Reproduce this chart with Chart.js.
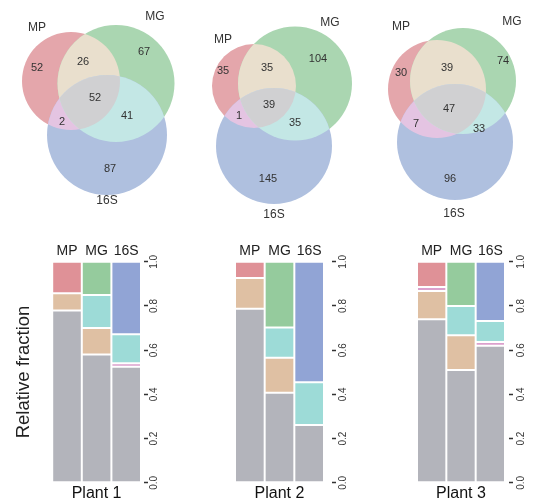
<!DOCTYPE html>
<html>
<head>
<meta charset="utf-8">
<script src="https://cdn.jsdelivr.net/npm/chart.js@4.4.0/dist/chart.umd.min.js"></script>
<style>
  html, body { margin: 0; padding: 0; background: #fff; }
  #wrap { position: relative; width: 536px; height: 503px; overflow: hidden; }
  .box { position: absolute; }
</style>
</head>
<body>
<div id="wrap">
  <div class="box" style="left:0;top:0;width:180px;height:228px"><canvas id="venn1"></canvas></div>
  <div class="box" style="left:180px;top:0;width:180px;height:228px"><canvas id="venn2"></canvas></div>
  <div class="box" style="left:360px;top:0;width:176px;height:228px"><canvas id="venn3"></canvas></div>
  <div class="box" style="left:0;top:238px;width:170px;height:265px"><canvas id="bar1"></canvas></div>
  <div class="box" style="left:180px;top:238px;width:178px;height:265px"><canvas id="bar2"></canvas></div>
  <div class="box" style="left:358px;top:238px;width:178px;height:265px"><canvas id="bar3"></canvas></div>
</div>
<script>
// ---- data ----
var setNames = ['MP', 'MG', '16S'];
var plantNames = ['Plant 1', 'Plant 2', 'Plant 3'];

// venn counts: MP only, MG only, 16S only, MP&MG, MP&16S, MG&16S, all three
var venn1Counts = [52, 67, 87, 26, 2, 41, 52];
var venn2Counts = [35, 104, 145, 35, 1, 35, 39];
var venn3Counts = [30, 74, 96, 39, 7, 33, 47];

// relative fractions per plant, bars in order MP, MG, 16S
var sharedAll   = [[0.78, 0.58, 0.525], [0.787, 0.408, 0.262], [0.74, 0.51, 0.62]];
var sharedMpMg  = [[0.078, 0.12, 0], [0.14, 0.158, 0], [0.128, 0.158, 0]];
var sharedMp16s = [[0, 0, 0.016], [0, 0, 0], [0.018, 0, 0.017]];
var sharedMg16s = [[0, 0.15, 0.131], [0, 0.137, 0.193], [0, 0.132, 0.095]];
var uniqueOnly  = [[0.142, 0.15, 0.328], [0.073, 0.297, 0.545], [0.114, 0.2, 0.268]];

var fracTicks = [0, 0.2, 0.4, 0.6, 0.8, 1.0];

// ---- layout of the venn pictures (canvas pixel units) ----
var venn1Circles = [[71, 81, 49], [116, 83.5, 58.5], [107, 135, 60]];
var venn2Circles = [[74, 86, 42], [115, 83.5, 57], [94, 146, 58]];
var venn3Circles = [[77, 89, 49], [103, 81, 53], [95, 142, 58]];
var venn1Spots = [[37, 68], [144, 52], [110, 169], [83, 62], [62, 122], [127, 116], [95, 98]];
var venn2Spots = [[43, 71], [138, 59], [88, 179], [87, 68], [59, 116], [115, 123], [89, 105]];
var venn3Spots = [[41, 73], [143, 61], [90, 179], [87, 68], [56, 124], [119, 129], [89, 109]];
var venn1Names = [[37, 28], [155, 17], [107, 201]];
var venn2Names = [[43, 40], [150, 23], [94, 215]];
var venn3Names = [[41, 27], [152, 22], [94, 214]];

var vennSingle = ['#e4a6ab', '#aad6b1', '#afc0df'];
var vennTan = '#e9dfcd', vennPink = '#e4c4e2', vennCyan = '#c3e7e5', vennGray = '#d0d0d2';

var barGray = '#b3b4bb', barTan = '#dfc0a3', barPink = '#dba0cd', barCyan = '#9ddbd7';
var barUnique = ['#df9197', '#95cb9d', '#91a4d5'];

var FONT = "'Liberation Sans', Arial, Helvetica, sans-serif";
Chart.defaults.font.family = FONT;
Chart.defaults.color = '#222';

var vennRegions = {
  id: 'vennRegions',
  afterDatasetsDraw: function(chart, args, opts) {
    var ctx = chart.ctx;
    var pts = chart.getDatasetMeta(0).data.map(function(el) {
      return { x: el.x, y: el.y, r: el.options.radius };
    });
    function region(idx, color) {
      ctx.save();
      for (var k = 0; k < idx.length - 1; k++) {
        var p = pts[idx[k]];
        ctx.beginPath();
        ctx.arc(p.x, p.y, p.r, 0, Math.PI * 2);
        ctx.clip();
      }
      var q = pts[idx[idx.length - 1]];
      ctx.beginPath();
      ctx.arc(q.x, q.y, q.r, 0, Math.PI * 2);
      ctx.fillStyle = color;
      ctx.fill();
      ctx.restore();
    }
    region([0, 1], vennTan);
    region([0, 2], vennPink);
    region([1, 2], vennCyan);
    region([0, 1, 2], vennGray);

    var sx = chart.scales.x, sy = chart.scales.y;
    ctx.save();
    ctx.textAlign = 'center';
    ctx.textBaseline = 'middle';
    ctx.fillStyle = '#333';
    ctx.font = '11px ' + FONT;
    opts.counts.forEach(function(c, i) {
      ctx.fillText(String(c), sx.getPixelForValue(opts.spots[i][0]), sy.getPixelForValue(opts.spots[i][1]));
    });
    ctx.font = '12px ' + FONT;
    setNames.forEach(function(n, i) {
      ctx.fillText(n, sx.getPixelForValue(opts.names[i][0]), sy.getPixelForValue(opts.names[i][1]));
    });
    ctx.restore();
  }
};

function vennChart(id, w, counts, circles, spots, names) {
  new Chart(document.getElementById(id), {
    type: 'bubble',
    data: {
      datasets: [{
        label: 'sets',
        data: circles.map(function(c) { return { x: c[0], y: c[1], r: c[2] }; }),
        backgroundColor: vennSingle,
        borderWidth: 0,
        hoverRadius: 0,
        clip: false
      }]
    },
    options: {
      responsive: true,
      maintainAspectRatio: false,
      animation: false,
      events: [],
      layout: { padding: 0, autoPadding: false },
      scales: {
        x: { display: false, min: 0, max: w },
        y: { display: false, min: 0, max: 228, reverse: true }
      },
      plugins: {
        legend: { display: false },
        tooltip: { enabled: false },
        vennRegions: { counts: counts, spots: spots, names: names }
      }
    },
    plugins: [vennRegions]
  });
}

function barChart(id, p, cfg) {
  var segs = [
    { label: 'all', data: sharedAll[p], color: barGray },
    { label: 'MP+MG', data: sharedMpMg[p], color: barTan },
    { label: 'MP+16S', data: sharedMp16s[p], color: barPink },
    { label: 'MG+16S', data: sharedMg16s[p], color: barCyan },
    { label: 'unique', data: uniqueOnly[p], color: barUnique }
  ];
  new Chart(document.getElementById(id), {
    type: 'bar',
    data: {
      labels: setNames,
      datasets: segs.map(function(s) {
        return {
          label: s.label,
          data: s.data.map(function(v) { return v || null; }),
          backgroundColor: s.color,
          borderColor: '#ffffff',
          borderWidth: 1,
          borderSkipped: false,
          inflateAmount: 0,
          barPercentage: 1,
          categoryPercentage: 1
        };
      })
    },
    options: {
      responsive: true,
      maintainAspectRatio: false,
      animation: false,
      events: [],
      layout: { padding: { left: cfg.left, right: cfg.right, top: 3, bottom: 0 } },
      scales: {
        x: {
          position: 'top',
          stacked: true,
          grid: { display: false, drawTicks: false },
          border: { display: false },
          ticks: { font: { size: 14 }, color: '#222', padding: 2, maxRotation: 0 }
        },
        y: {
          position: 'right',
          stacked: true,
          min: 0,
          max: 1,
          border: { display: false },
          grid: {
            drawOnChartArea: false,
            tickLength: cfg.gap + 4,
            tickWidth: 1.6,
            tickColor: '#333',
            tickBorderDash: [0, cfg.gap, 4, 60]
          },
          afterBuildTicks: function(s) { s.ticks = fracTicks.map(function(v) { return { value: v }; }); },
          afterFit: function(s) { s.width = 22; },
          ticks: {
            minRotation: 90,
            maxRotation: 90,
            crossAlign: 'center',
            padding: cfg.pad,
            font: { size: 10 },
            color: '#333',
            callback: function(v) { return Number(v).toFixed(1); }
          }
        }
      },
      plugins: {
        legend: { display: false },
        tooltip: { enabled: false },
        title: {
          display: !!cfg.yTitle,
          text: cfg.yTitle || '',
          position: 'left',
          color: '#222',
          font: { size: 18.5, weight: 'normal' },
          padding: { top: 0, bottom: 17 }
        },
        subtitle: {
          display: true,
          text: plantNames[p],
          position: 'bottom',
          fullSize: false,
          color: '#111',
          font: { size: 16, weight: 'normal' },
          padding: { top: 1, bottom: 0 }
        }
      }
    }
  });
}

vennChart('venn1', 180, venn1Counts, venn1Circles, venn1Spots, venn1Names);
vennChart('venn2', 180, venn2Counts, venn2Circles, venn2Spots, venn2Names);
vennChart('venn3', 176, venn3Counts, venn3Circles, venn3Spots, venn3Names);

barChart('bar1', 0, { left: 13, right: 7, gap: 3, pad: -1, yTitle: 'Relative fraction' });
barChart('bar2', 1, { left: 55, right: 12, gap: 8, pad: 0 });
barChart('bar3', 2, { left: 59, right: 9, gap: 4, pad: 1.5 });
</script>
</body>
</html>
